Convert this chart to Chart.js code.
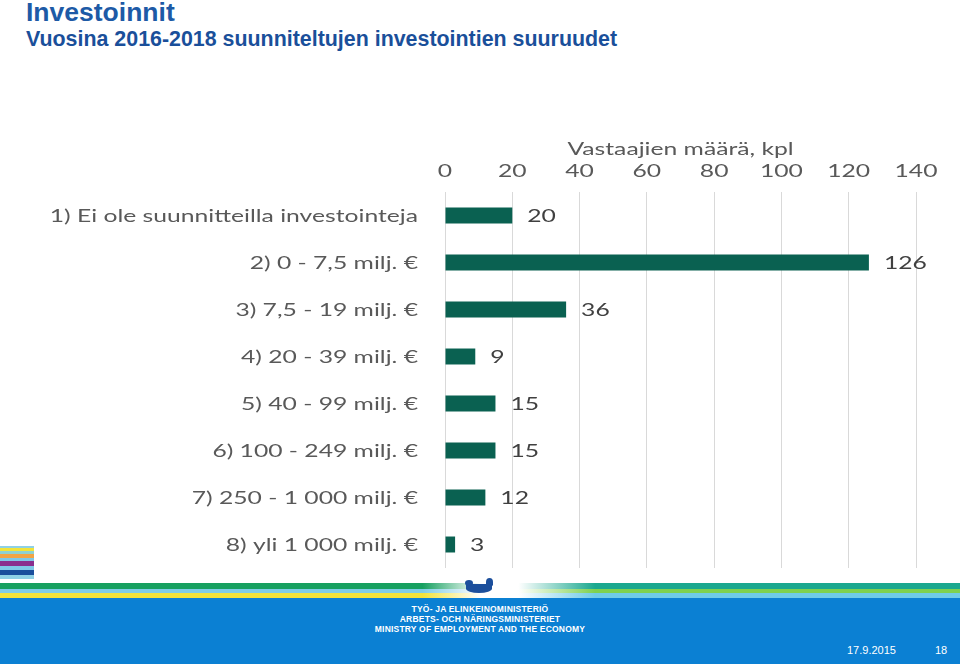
<!DOCTYPE html>
<html>
<head>
<meta charset="utf-8">
<script src="https://cdn.jsdelivr.net/npm/chart.js@4.4.1/dist/chart.umd.min.js"></script>
<style>
  body { margin: 0; width: 960px; height: 664px; position: relative; overflow: hidden; background: #fff; font-family: "Liberation Sans", Arial, sans-serif; }
  #t1 { position: absolute; left: 26px; top: -3px; font-size: 26.5px; font-weight: bold; color: #1d5aa6; }
  #t2 { position: absolute; left: 26px; top: 27px; font-size: 21.4px; font-weight: bold; color: #1a4f9a; }
  #chartBox { position: absolute; left: 0; top: 130px; width: 960px; height: 445px; }
  #chart { display: block; }
  .lstripe { position: absolute; left: 0; width: 34px; height: 4px; }
  #band1 { position: absolute; left: 0; top: 583px; width: 960px; height: 6px; background: linear-gradient(to right, #16a060 0%, #16a060 44%, #ffffff 50%, #ffffff 54%, #1aa88f 62%, #1aa88f 100%); }
  #band2 { position: absolute; left: 0; top: 589px; width: 960px; height: 4px; background: linear-gradient(to right, #7fcde6 0%, #7fcde6 44%, #ffffff 50%, #ffffff 54%, #7ed14f 62%, #7ed14f 100%); }
  #band3 { position: absolute; left: 0; top: 593px; width: 960px; height: 5px; background: linear-gradient(to right, #f2e33a 0%, #f2e33a 44%, #ffffff 50%, #ffffff 54%, #6fcbe8 62%, #6fcbe8 100%); }
  #footer { position: absolute; left: 0; top: 598px; width: 960px; height: 66px; background: #0b80d3; color: #fff; }
  .ft { position: absolute; width: 960px; left: 0; text-align: center; font-size: 8.5px; font-weight: bold; letter-spacing: 0.2px; }
  #date { position: absolute; left: 847px; top: 46px; font-size: 11px; }
  #page { position: absolute; left: 935px; top: 46px; font-size: 11px; }
  #logo1 { position: absolute; left: 466px; top: 584px; width: 26px; height: 9px; background: #1c4f9c; border-radius: 10% 10% 60% 60%; }
  #logo2 { position: absolute; left: 465px; top: 580px; width: 8px; height: 6px; background: #1c4f9c; border-radius: 50%; }
  #logo3 { position: absolute; left: 486px; top: 578px; width: 7px; height: 8px; background: #1c4f9c; border-radius: 50% 50% 20% 20%; }
</style>
</head>
<body>
<div id="t1">Investoinnit</div>
<div id="t2">Vuosina 2016-2018 suunniteltujen investointien suuruudet</div>

<div id="chartBox"><canvas id="chart" width="960" height="445"></canvas></div>

<div class="lstripe" style="top:546px;height:2px;background:#8fd1e6"></div>
<div class="lstripe" style="top:548px;height:3px;background:#f2e33a"></div>
<div class="lstripe" style="top:551px;height:3px;background:#8fd1d0"></div>
<div class="lstripe" style="top:554px;height:4px;background:#f2a444"></div>
<div class="lstripe" style="top:558px;height:3px;background:#7fc8e8"></div>
<div class="lstripe" style="top:561px;height:5px;background:#8a2e8e"></div>
<div class="lstripe" style="top:566px;height:4px;background:#7fc8e8"></div>
<div class="lstripe" style="top:570px;height:5px;background:#1a4f9c"></div>
<div class="lstripe" style="top:575px;height:4px;background:#8fd1e6"></div>

<div id="band1"></div>
<div id="band2"></div>
<div id="band3"></div>
<div id="logo1"></div><div id="logo2"></div><div id="logo3"></div>

<div id="footer">
  <div class="ft" style="top:6px">TYÖ- JA ELINKEINOMINISTERIÖ</div>
  <div class="ft" style="top:16px">ARBETS- OCH NÄRINGSMINISTERIET</div>
  <div class="ft" style="top:26px">MINISTRY OF EMPLOYMENT AND THE ECONOMY</div>
  <div id="date">17.9.2015</div>
  <div id="page">18</div>
</div>

<script>
// Kategoriat ja arvot
const categories = [
  '1) Ei ole suunnitteilla investointeja',
  '2) 0 - 7,5 milj. €',
  '3) 7,5 - 19 milj. €',
  '4) 20 - 39 milj. €',
  '5) 40 - 99 milj. €',
  '6) 100 - 249 milj. €',
  '7) 250 - 1 000 milj. €',
  '8) yli 1 000 milj. €'
];
const respondents = [20, 126, 36, 9, 15, 15, 12, 3];
const axisMin = 0;
const axisMax = 140;
const axisStep = 20;
const axisTitle = 'Vastaajien määrä, kpl';

// Alkuperäinen fontti on leveäksi venytetty, joten tekstit piirretään itse
const FONT = '17.5px Lato, "Open Sans", sans-serif';
const STRETCH = 1.41;
const TEXT_COLOR = '#595959';

function stretchedText(c, text, x, y, align) {
  c.save();
  c.translate(x, y);
  c.scale(STRETCH, 1);
  c.textAlign = align;
  c.fillText(text, 0, 0);
  c.restore();
}

const axisTexts = {
  id: 'axisTexts',
  afterDraw(chart) {
    const c = chart.ctx;
    const xs = chart.scales.x;
    const ys = chart.scales.y;
    const area = chart.chartArea;
    c.save();
    c.font = FONT;
    c.fillStyle = TEXT_COLOR;
    c.textBaseline = 'middle';
    // x-akselin arvot ja otsikko
    xs.ticks.forEach((t, i) => {
      stretchedText(c, String(t.value), xs.getPixelForTick(i), area.top - 21, 'center');
    });
    stretchedText(c, axisTitle, (area.left + area.right) / 2, area.top - 43, 'center');
    // luokat
    ys.ticks.forEach((t, i) => {
      stretchedText(c, chart.data.labels[t.value], area.left - 27, ys.getPixelForTick(i) + 1, 'right');
    });
    // arvot palkkien perään
    c.fillStyle = '#404040';
    chart.getDatasetMeta(0).data.forEach((bar, i) => {
      stretchedText(c, String(chart.data.datasets[0].data[i]), bar.x + 15, bar.y + 1, 'left');
    });
    c.restore();
  }
};

new Chart(document.getElementById('chart').getContext('2d'), {
  type: 'bar',
  data: {
    labels: categories,
    datasets: [{
      data: respondents,
      backgroundColor: '#0a6151',
      categoryPercentage: 1,
      barPercentage: 0.34
    }]
  },
  options: {
    indexAxis: 'y',
    responsive: false,
    animation: false,
    layout: { padding: { top: 0, right: 44, bottom: 7, left: 0 } },
    plugins: { legend: { display: false }, tooltip: { enabled: false } },
    scales: {
      x: {
        position: 'top',
        min: axisMin,
        max: axisMax,
        ticks: { stepSize: axisStep, display: false },
        grid: { color: '#d9d9d9', drawTicks: false },
        border: { display: false },
        afterFit(scale) { scale.height = 62; }
      },
      y: {
        ticks: { display: false },
        grid: { display: false, drawTicks: false },
        border: { display: false },
        afterFit(scale) { scale.width = 445; }
      }
    }
  },
  plugins: [axisTexts]
});
</script>
</body>
</html>
